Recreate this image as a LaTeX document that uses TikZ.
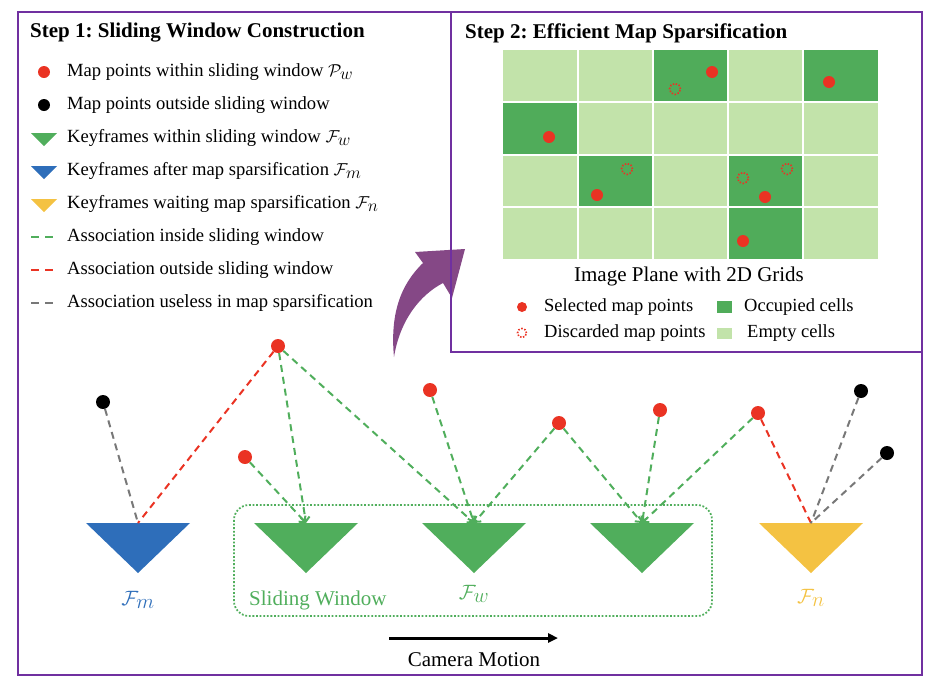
\documentclass[tikz,border=0pt]{standalone}
\usepackage{fontspec}
\setmainfont{Liberation Serif}
\frenchspacing
\usetikzlibrary{arrows.meta}
\definecolor{ptred}{RGB}{234,51,35}
\definecolor{kfgreen}{RGB}{80,174,92}
\definecolor{kfblue}{RGB}{46,110,186}
\definecolor{kfyellow}{RGB}{244,194,66}
\definecolor{cellfull}{RGB}{80,172,90}
\definecolor{cellempty}{RGB}{194,227,170}
\definecolor{framepurple}{RGB}{112,48,160}
\definecolor{arrowpurple}{RGB}{126,62,128}
\definecolor{assocgray}{RGB}{120,120,120}
\newcommand\setsym[2]{\mathcal{#1}_{\textstyle #2}} % big subscript as in the figure
\begin{document}
\begin{tikzpicture}[x=1pt,y=-1pt,
	mp/.style={circle,fill=#1,inner sep=0pt,minimum size=14pt},
	legtext/.style={anchor=west,inner sep=0pt,font=\fontsize{18.6}{22}\selectfont},
	title/.style={anchor=west,inner sep=0pt,font=\fontsize{21}{24}\selectfont\bfseries},
	kflabel/.style={inner sep=0pt,font=\fontsize{21}{24}\selectfont},
	assoc/.style={line width=2pt,dash pattern=on 7pt off 5pt},
	inlink/.style={assoc,kfgreen,-{Straight Barb[length=4.5pt,width=9pt]}},
	discard/.style={circle,draw=ptred,line width=1.6pt,dash pattern=on 1.5pt off 1.6pt,inner sep=0pt,minimum size=11pt}]
	\useasboundingbox (0,0) rectangle (934,686);
	\def\gx{503} \def\gy{50} \def\cw{75} \def\ch{52.25} % grid origin and cell size
	
	% Step 1 legend
	\node[title] (t1) at (30,33) {Step 1: Sliding Window Construction};
	\node[circle,fill=ptred,inner sep=0pt,minimum size=12pt] (l1) at (44,72) {};
	\node[circle,fill=black,inner sep=0pt,minimum size=12pt] (l2) at (44,105) {};
	\foreach \y/\c in {138/kfgreen,171/kfblue,204/kfyellow}
		\fill[\c] (31,\y-5) -- (57,\y-5) -- (44,\y+8) -- cycle;
	\foreach \y/\c in {237/kfgreen,270/ptred,303/assocgray}
		\draw[\c,line width=2.8pt,dash pattern=on 8pt off 6pt] (31,\y) -- (54,\y);
	\node[legtext] (m1) at (67,72) {Map points within sliding window $\setsym{P}{w}$};
	\node[legtext] (m2) at (67,105) {Map points outside sliding window};
	\node[legtext] (m3) at (67,138) {Keyframes within sliding window $\setsym{F}{w}$};
	\node[legtext] (m4) at (67,171) {Keyframes after map sparsification $\setsym{F}{m}$};
	\node[legtext] (m5) at (67,204) {Keyframes waiting map sparsification $\setsym{F}{n}$};
	\node[legtext] (m6) at (67,237) {Association inside sliding window};
	\node[legtext] (m7) at (67,270) {Association outside sliding window};
	\node[legtext] (m8) at (67,303) {Association useless in map sparsification};
	
	% curved arrow between the steps
	\fill[arrowpurple,opacity=0.95] (394,357) .. controls (390,315) and (400,285) .. (423,263)
		-- (415,252) -- (465,249) -- (452,298) -- (443,283)
		.. controls (420,295) and (400,320) .. (394,357) -- cycle;
	
	% Step 2: image plane with 2D grids
	\node[title] (t2) at (465,33) {Step 2: Efficient Map Sparsification};
	\fill[cellempty] (\gx,\gy) rectangle (\gx+5*\cw,\gy+4*\ch);
	\foreach \i/\j in {2/0,4/0,0/1,1/2,3/2,3/3}
		\fill[cellfull] (\gx+\i*\cw,\gy+\j*\ch) rectangle ++(\cw,\ch);
	\foreach \i in {1,...,4}
		\draw[white,line width=2pt] (\gx+\i*\cw,\gy) -- ++(0,4*\ch);
	\foreach \j in {1,2,3}
		\draw[white,line width=2pt] (\gx,\gy+\j*\ch) -- ++(5*\cw,0);
	\foreach \n/\x/\y in {s1/712/72,s2/829/82,s3/549/137,s4/597/195,s5/765/197,s6/743/241}
		\node[circle,fill=ptred,inner sep=0pt,minimum size=12pt] (\n) at (\x,\y) {};
	\foreach \n/\x/\y in {d1/675/89,d2/627/169,d3/743/178,d4/787/169}
		\node[discard] (\n) at (\x,\y) {};
	\node[inner sep=0pt,font=\fontsize{21}{24}\selectfont] (plane) at (689,276) {Image Plane with 2D Grids};
	\node[circle,fill=ptred,inner sep=0pt,minimum size=10pt] (ls) at (522,307) {};
	\node[discard,minimum size=9pt] (ld) at (522,333) {};
	\fill[cellfull] (717,301) rectangle (732,313);
	\fill[cellempty] (717,328) rectangle (732,339);
	\node[legtext,font=\fontsize{18.5}{21}\selectfont] (n1) at (544,307) {Selected map points};
	\node[legtext,font=\fontsize{18.5}{21}\selectfont] (n2) at (544,333) {Discarded map points};
	\node[legtext,font=\fontsize{18.5}{21}\selectfont] (n3) at (744,307) {Occupied cells};
	\node[legtext,font=\fontsize{18.5}{21}\selectfont] (n4) at (747,333) {Empty cells};
	\draw[framepurple,line width=2.4pt] (451,12) rectangle (922,352);
	
	% keyframes, top centre is the coordinate
	\foreach \n/\x/\c in {Fm/138/kfblue,Fa/306/kfgreen,Fb/474/kfgreen,Fc/642/kfgreen,Fn/811/kfyellow}{
		\coordinate (\n) at (\x,523);
		\fill[\c] (\n) ++(-52,0) -- ++(104,0) -- ++(-52,50) -- cycle;
	}
	\draw[kfgreen,line width=1.8pt,dash pattern=on 1.8pt off 1.8pt,rounded corners=15pt] (234,505) rectangle (712,616);
	\node[kflabel,text=kfblue] (lm) at (138,600) {$\setsym{F}{m}$};
	\node[kflabel,text=kfgreen] (lw) at (474,594) {$\setsym{F}{w}$};
	\node[kflabel,text=kfyellow] (ln) at (811,598) {$\setsym{F}{n}$};
	\node[legtext,text=kfgreen,font=\fontsize{21}{24}\selectfont] (sw) at (249,600) {Sliding Window};
	
	% map points
	\foreach \n/\x/\y/\c in {b1/103/402/black,r1/278/346/ptred,r2/245/457/ptred,r3/430/390/ptred,
		r4/559/423/ptred,r5/660/410/ptred,r6/758/413/ptred,b2/861/391/black,b3/887/453/black}
		\node[mp=\c] (\n) at (\x,\y) {};
	
	% associations
	\foreach \a/\b in {r1/Fa,r1/Fb,r2/Fa,r3/Fb,r4/Fb,r4/Fc,r5/Fc,r6/Fc}
		\draw[inlink] (\a) -- (\b);
	\draw[assoc,ptred] (r1) -- (Fm);
	\draw[assoc,ptred] (r6) -- (Fn);
	\foreach \a/\b in {b1/Fm,b2/Fn,b3/Fn}
		\draw[assoc,assocgray] (\a) -- (\b);
	
	% camera motion
	\coordinate (cam0) at (389,638);
	\coordinate (cam1) at (558,638);
	\draw[line width=3pt,-{Triangle[length=10pt,width=9pt]}] (cam0) -- (cam1);
	\node[inner sep=0pt,font=\fontsize{21}{24}\selectfont] (cm) at (474,660) {Camera Motion};
	
	\draw[framepurple,line width=2.4pt] (18,12) rectangle (922,675);
\end{tikzpicture}
\end{document}
